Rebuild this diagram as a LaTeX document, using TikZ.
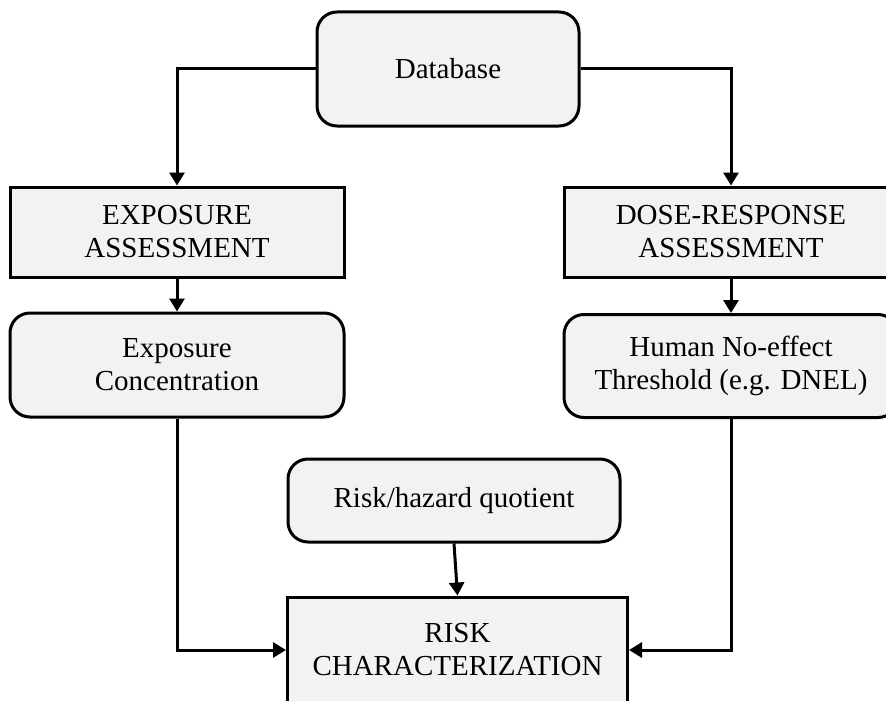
\documentclass[tikz,border=0pt]{standalone}
\usepackage{fontspec}
\setmainfont{Liberation Serif}
\usetikzlibrary{arrows.meta}
\definecolor{boxfill}{HTML}{F2F2F2}
\tikzset{
  box/.style={draw=black, line width=3pt, fill=boxfill, inner sep=0pt,
    align=center, font=\fontsize{29pt}{33pt}\selectfont},
  roundbox/.style={box, rounded corners=20pt},
  flow/.style={line width=3pt, -{Triangle[width=15pt,length=13pt]}},
}
\begin{document}
\begin{tikzpicture}[x=1pt, y=-1pt]
  \useasboundingbox (0,0) rectangle (886,701);

  % top source
  \node[roundbox, minimum width=262pt, minimum height=114pt] (db) at (448,69) {Database};

  % left column
  \node[box, minimum width=334pt, minimum height=90pt] (expo) at (177,232)
    {EXPOSURE\\ASSESSMENT};
  \node[roundbox, minimum width=334pt, minimum height=104pt] (conc) at (177,365)
    {Exposure\\Concentration};

  % right column
  \node[box, minimum width=334pt, minimum height=90pt] (dose) at (731,232)
    {DOSE-RESPONSE\\ASSESSMENT};
  \node[roundbox, minimum width=334pt, minimum height=103pt] (human) at (731,366)
    {Human No-effect\\Threshold (e.g. DNEL)};

  % centre
  \node[roundbox, minimum width=332pt, minimum height=83pt] (quot) at (454,500.5)
    {Risk/hazard quotient};
  \node[box, minimum width=340pt, minimum height=106pt] (risk) at (457.5,650)
    {RISK\\CHARACTERIZATION};

  % connectors
  \draw[flow] (db.west) -| (expo.north);
  \draw[flow] (db.east) -| (dose.north);
  \draw[flow] (expo.south) -- (conc.north);
  \draw[flow] (dose.south) -- (human.north);
  \draw[flow] (conc.south) |- (risk.west);
  \draw[flow] (human.south) |- (risk.east);
  \draw[flow] (quot.south) -- (risk.north);
\end{tikzpicture}
\end{document}
